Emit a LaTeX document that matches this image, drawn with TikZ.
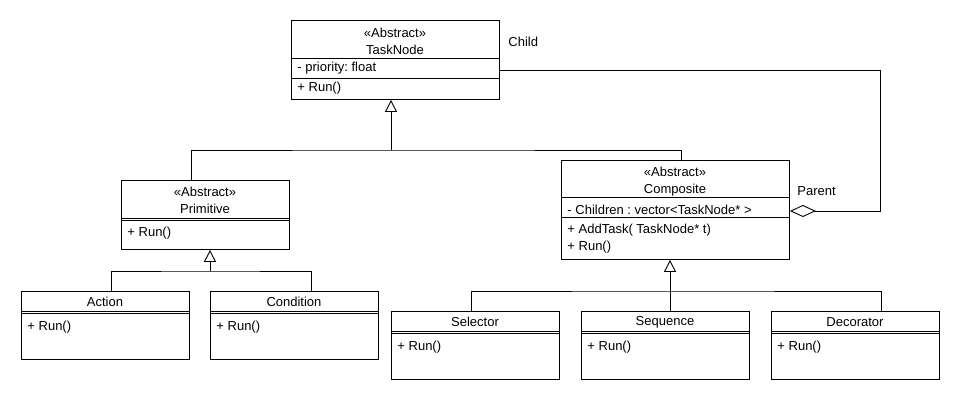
\documentclass[tikz,border=0pt]{standalone}
\usepackage{fontspec}
\setmainfont{Liberation Sans}
\frenchspacing
\usetikzlibrary{arrows.meta}
\begin{document}
\begin{tikzpicture}[x=1pt,y=-1pt,line width=0.9pt,
    cls/.style={draw, fill=white, inner sep=0pt, minimum width=168, anchor=north west},
    lbl/.style={inner sep=0pt, align=center, font=\fontsize{13}{17}\selectfont},
    mem/.style={inner sep=0pt, anchor=west, font=\fontsize{13}{17}\selectfont},
    inh/.style={-{Triangle[open,length=12pt,width=12pt]}},
    agg/.style={-{Diamond[open,length=26pt,width=12pt]}}]
  \fill[white] (0,0) rectangle (960,400);
  \useasboundingbox (0,0) rectangle (960,400);
  % classes
  \node[cls, minimum width=208, minimum height=79] (tasknode) at (291,20) {};
  \node[cls, minimum width=228, minimum height=99] (composite) at (561,160) {};
  \node[cls, minimum height=69] (primitive) at (121,180) {};
  \node[cls, minimum height=68] (action) at (21,291) {};
  \node[cls, minimum height=68] (condition) at (210,291) {};
  \node[cls, minimum height=68] (selector) at (391,311) {};
  \node[cls, minimum height=68] (sequence) at (581,311) {};
  \node[cls, minimum height=68] (decorator) at (771,311) {};
  \draw ([yshift=-38]tasknode.north west) -- ([yshift=-38]tasknode.north east);
  \draw ([yshift=-58]tasknode.north west) -- ([yshift=-58]tasknode.north east);
  \draw ([yshift=-37]composite.north west) -- ([yshift=-37]composite.north east);
  \draw ([yshift=-57]composite.north west) -- ([yshift=-57]composite.north east);
  \draw ([yshift=-38]primitive.north west) -- ([yshift=-38]primitive.north east);
  \draw ([yshift=-40]primitive.north west) -- ([yshift=-40]primitive.north east);
  \foreach \c in {action,condition,selector,sequence,decorator} {
    \draw ([yshift=-20]\c.north west) -- ([yshift=-20]\c.north east);
    \draw ([yshift=-22]\c.north west) -- ([yshift=-22]\c.north east);
  }
  % texts
  \node[lbl] (tnname) at (395,41) {«Abstract»\\TaskNode};
  \node[mem] (tnattr) at (297,68) {- priority: float};
  \node[mem] (tnrun) at (297,88) {+ Run()};
  \node[lbl] (coname) at (675,182) {«Abstract»\\Composite};
  \node[mem] (coattr) at (567,210) {- Children : vector<TaskNode* >};
  \node[mem] (coadd) at (567,230) {+ AddTask( TaskNode* t)};
  \node[mem] (corun) at (567,247) {+ Run()};
  \node[lbl] (prname) at (205,200.5) {«Abstract»\\Primitive};
  \node[mem] (prrun) at (127,233) {+ Run()};
  \node[lbl] (acname) at (105,302) {Action};
  \node[mem] (acrun) at (27,327) {+ Run()};
  \node[lbl] (cdname) at (294,302) {Condition};
  \node[mem] (cdrun) at (216,327) {+ Run()};
  \node[lbl] (slname) at (475,322) {Selector};
  \node[mem] (slrun) at (397,347) {+ Run()};
  \node[lbl] (sqname) at (665,322) {Sequence};
  \node[mem] (sqrun) at (587,347) {+ Run()};
  \node[lbl] (dcname) at (855,322) {Decorator};
  \node[mem] (dcrun) at (777,347) {+ Run()};
  \node[mem] (child) at (508,42) {Child};
  \node[mem] (parent) at (797,191) {Parent};
  % inheritance
  \coordinate (jtop) at (391,150);
  \coordinate (jprim) at (210,271);
  \coordinate (jcomp) at (670,291);
  \draw ([xshift=70]primitive.north west) |- (jtop) -| ([xshift=120]composite.north west);
  \draw[inh] (jtop) -- (jtop |- tasknode.south);
  \draw ([xshift=90]action.north west) |- (jprim) -| ([xshift=101]condition.north west);
  \draw[inh] (jprim) -- (jprim |- primitive.south);
  \draw ([xshift=80]selector.north west) |- (jcomp) -| ([xshift=110]decorator.north west);
  \draw (jcomp) -- (jcomp |- sequence.north);
  \draw[inh] (jcomp) -- (jcomp |- composite.south);
  % association
  \coordinate (bend) at (880,211);
  \draw[agg] ([yshift=-50]tasknode.north east) -| (bend) -- (bend -| composite.east);
\end{tikzpicture}
\end{document}
